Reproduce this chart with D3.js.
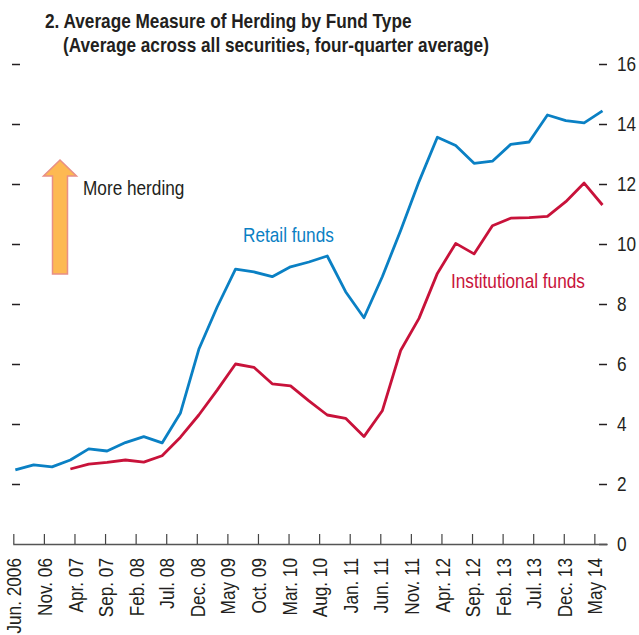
<!DOCTYPE html>
<html>
<head>
<meta charset="utf-8">
<script src="https://cdn.jsdelivr.net/npm/d3@7"></script>
<style>
  body { margin: 0; background: #fff; }
  svg { display: block; font-family: "Liberation Sans", Arial, sans-serif; }
</style>
</head>
<body>
<svg id="chart"></svg>
<script>
// Quarterly observations, Jun. 2006 .. Jun. 2014
const quarters = [
  'Jun 2006', 'Sep 2006', 'Dec 2006', 'Mar 2007', 'Jun 2007', 'Sep 2007', 'Dec 2007', 'Mar 2008',
  'Jun 2008', 'Sep 2008', 'Dec 2008', 'Mar 2009', 'Jun 2009', 'Sep 2009', 'Dec 2009', 'Mar 2010',
  'Jun 2010', 'Sep 2010', 'Dec 2010', 'Mar 2011', 'Jun 2011', 'Sep 2011', 'Dec 2011', 'Mar 2012',
  'Jun 2012', 'Sep 2012', 'Dec 2012', 'Mar 2013', 'Jun 2013', 'Sep 2013', 'Dec 2013', 'Mar 2014',
  'Jun 2014'
];
const retailFunds = [
  2.47, 2.64, 2.57, 2.80, 3.17, 3.10, 3.38, 3.58,
  3.37, 4.37, 6.49, 7.90, 9.16, 9.07, 8.91, 9.24,
  9.40, 9.60, 8.41, 7.54, 8.91, 10.45, 12.08, 13.56,
  13.28, 12.69, 12.76, 13.32, 13.40, 14.30, 14.11, 14.04,
  14.44
];
// institutional series starts in Mar. 2007
const institutionalFunds = [
  null, null, null, 2.50, 2.66, 2.72, 2.80, 2.73,
  2.94, 3.56, 4.30, 5.13, 6.00, 5.89, 5.34, 5.27,
  4.77, 4.30, 4.19, 3.58, 4.44, 6.45, 7.52, 9.02,
  10.02, 9.67, 10.61, 10.86, 10.88, 10.92, 11.41, 12.03,
  11.30
];
const xTickLabels = [
  'Jun. 2006', 'Nov. 06', 'Apr. 07', 'Sep. 07', 'Feb. 08', 'Jul. 08', 'Dec. 08', 'May 09',
  'Oct. 09', 'Mar. 10', 'Aug. 10', 'Jan. 11', 'Jun. 11', 'Nov. 11', 'Apr. 12', 'Sep. 12',
  'Feb. 13', 'Jul. 13', 'Dec. 13', 'May 14'
];
const yTicks = [0, 2, 4, 6, 8, 10, 12, 14, 16];

const width = 639;
const height = 635;
const blue = '#0a80c4';
const red = '#c8123a';
const ink = '#231f20';
const narrow = 0.82; // no condensed face installed, squeeze Liberation Sans instead

const monthNames = ['Jan', 'Feb', 'Mar', 'Apr', 'May', 'Jun', 'Jul', 'Aug', 'Sep', 'Oct', 'Nov', 'Dec'];
// months since Jun. 2006; points sit a little after the start of the month
function monthIndex(label) {
  const [m, yr] = label.split(' ');
  return (+yr - 2006) * 12 + monthNames.indexOf(m) - 5;
}
const pointOffset = 0.33;

const svg = d3.select('#chart').attr('width', width).attr('height', height);

const x = d3.scaleLinear().domain([-0.1, 97.1]).range([12.7, 607.2]);
const y = d3.scaleLinear().domain([0, 16]).range([544, 64]);

// horizontal text squeezed to look condensed
function label(parent, px, py, str) {
  return parent.append('text')
    .attr('transform', `translate(${px},${py}) scale(${narrow},1)`)
    .text(str);
}

// Title
const title = svg.append('g').attr('fill', ink).attr('font-weight', 'bold').attr('font-size', 21);
label(title, 45, 28, '2. Average Measure of Herding by Fund Type');
label(title, 63, 52, '(Average across all securities, four-quarter average)');

// Left ticks (no labels)
const leftAxis = svg.append('g')
  .attr('transform', 'translate(12,0)')
  .call(d3.axisRight(y).tickValues(yTicks.slice(1)).tickSize(8).tickFormat(''));
leftAxis.select('.domain').remove();
leftAxis.selectAll('line').attr('stroke', ink).attr('stroke-width', 1.5);

// Right axis with labels
const rightAxis = svg.append('g')
  .attr('transform', 'translate(607,0)')
  .call(d3.axisRight(y).tickValues(yTicks).tickSizeInner(-8).tickSizeOuter(0).tickPadding(10));
rightAxis.select('.domain').remove();
rightAxis.selectAll('line').attr('stroke', ink).attr('stroke-width', 1.5);
rightAxis.selectAll('text')
  .attr('font-family', null)
  .attr('font-size', 21)
  .attr('fill', ink)
  .attr('x', 0)
  .attr('transform', `translate(10,0) scale(${narrow},1)`);

// Bottom axis
const xTickValues = xTickLabels.map((d, i) => i * 5);
const bottomAxis = svg.append('g')
  .attr('transform', `translate(0,${y(0)})`)
  .call(d3.axisBottom(x).tickValues(xTickValues).tickSizeInner(-10).tickSizeOuter(0)
    .tickFormat((d, i) => xTickLabels[i]));
bottomAxis.select('.domain').attr('stroke', '#555').attr('stroke-width', 1.5);
bottomAxis.selectAll('line').attr('stroke', '#444').attr('stroke-width', 1.2);
bottomAxis.selectAll('text')
  .attr('font-family', null)
  .attr('font-size', 21)
  .attr('fill', ink)
  .attr('text-anchor', 'end')
  .attr('transform', `rotate(-90) scale(${narrow},1)`)
  .attr('x', -14 / narrow)
  .attr('y', 0)
  .attr('dy', '0.36em');

// Lines
const line = d3.line()
  .defined(d => d.value != null)
  .x(d => x(d.month))
  .y(d => y(d.value));

const toPoints = vals => vals.map((v, i) => ({ month: monthIndex(quarters[i]) + pointOffset, value: v }));

svg.append('path')
  .datum(toPoints(institutionalFunds))
  .attr('d', line)
  .attr('fill', 'none')
  .attr('stroke', red)
  .attr('stroke-width', 2.8)
  .attr('stroke-linejoin', 'round');

svg.append('path')
  .datum(toPoints(retailFunds))
  .attr('d', line)
  .attr('fill', 'none')
  .attr('stroke', blue)
  .attr('stroke-width', 2.8)
  .attr('stroke-linejoin', 'round');

// Series labels
const notes = svg.append('g').attr('font-size', 21);
label(notes, 243, 242, 'Retail funds').attr('fill', blue);
label(notes, 451, 288, 'Institutional funds').attr('fill', red);

// "More herding" arrow
const ax = 60, tipY = 160, headY = 176, baseY = 274, headHalf = 16.5, shaftHalf = 7.5;
svg.append('path')
  .attr('d', `M${ax},${tipY} L${ax + headHalf},${headY} L${ax + shaftHalf},${headY} L${ax + shaftHalf},${baseY}
              L${ax - shaftHalf},${baseY} L${ax - shaftHalf},${headY} L${ax - headHalf},${headY} Z`)
  .attr('fill', '#fdb952')
  .attr('stroke', '#e88f86')
  .attr('stroke-width', 1.5);
label(notes, 83, 195, 'More herding').attr('fill', ink);
</script>
</body>
</html>
